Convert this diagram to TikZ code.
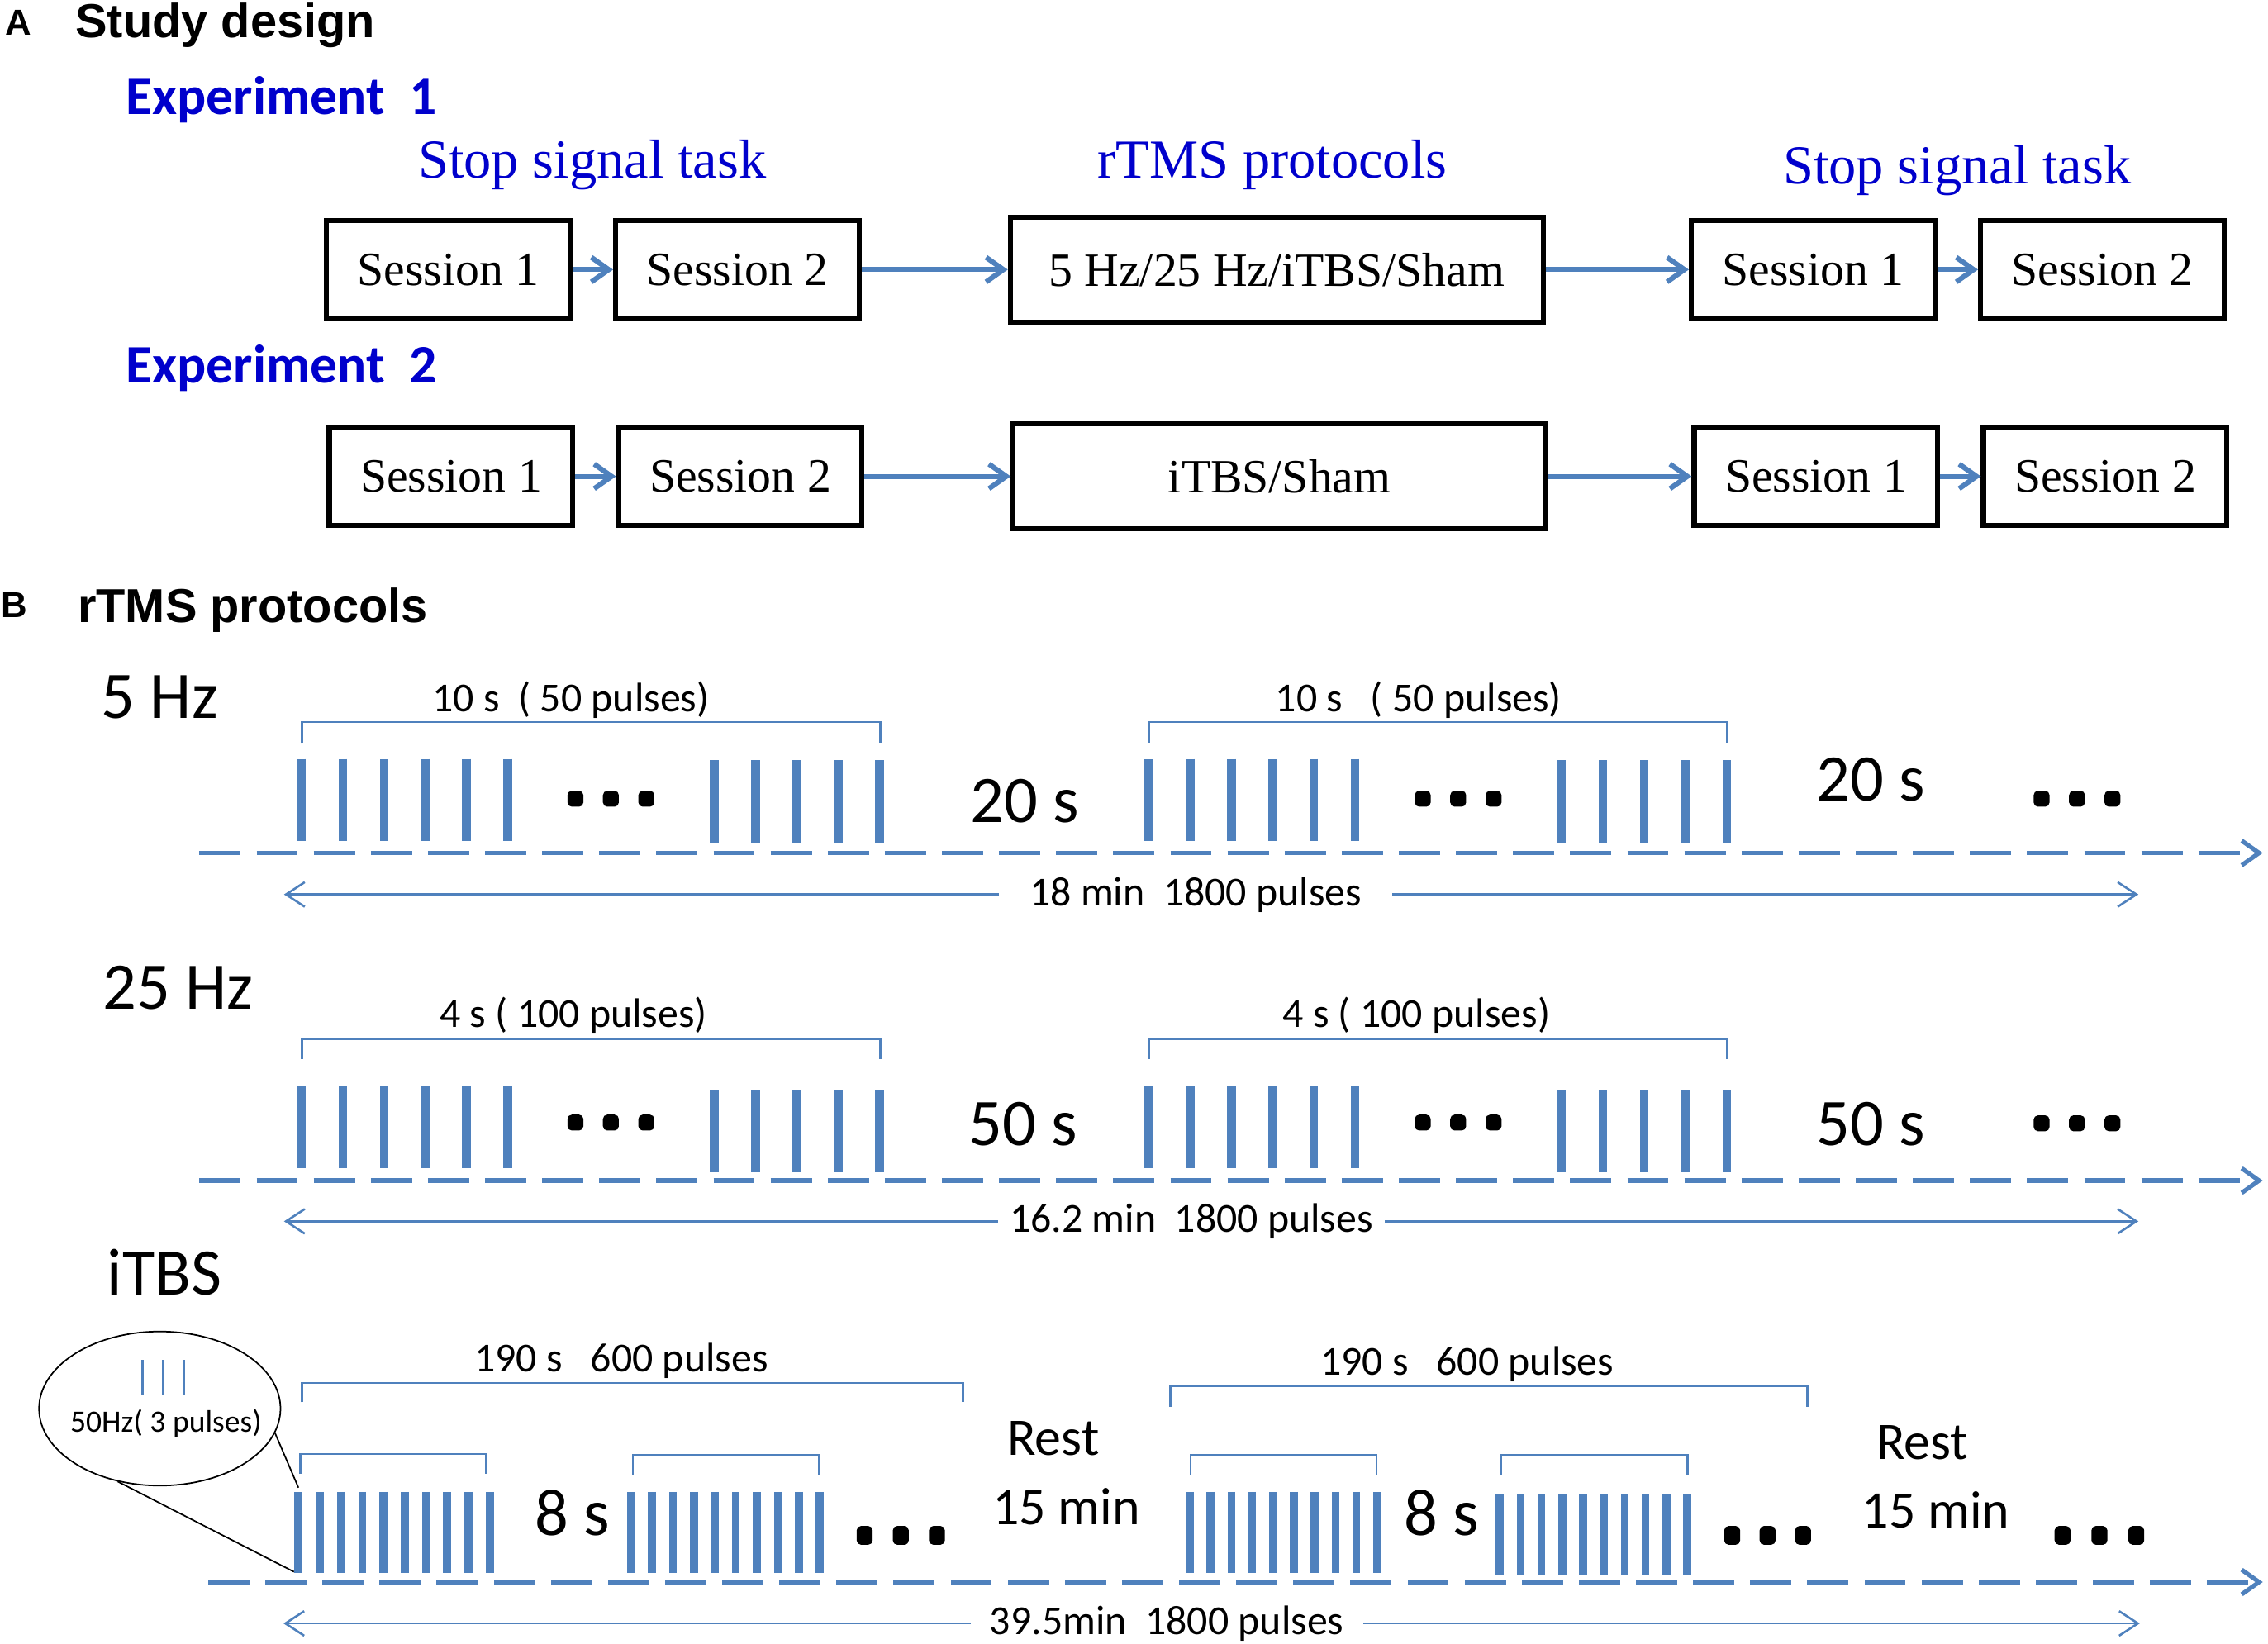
\documentclass[tikz,border=0pt]{standalone}
\usepackage{fontspec}
\setmainfont{Liberation Serif}
\newfontfamily\headfont{Liberation Sans}
\newfontfamily\calfont{Carlito}
\usetikzlibrary{arrows.meta,positioning,shapes.geometric}
\definecolor{pulseblue}{HTML}{4F81BD}
\definecolor{titleblue}{HTML}{0000CC}
\newcommand{\fsz}[1]{\fontsize{#1}{#1}\selectfont}

\begin{document}
\begin{tikzpicture}[x=1pt,y=-1pt,  %coordinates are pixels of the figure, y going down
		session/.style={draw=black,line width=3.5pt,minimum width=168.5pt,minimum height=67.5pt,inner sep=0pt,font=\fsz{33}},
		protocol/.style={session,minimum width=368.5pt,minimum height=72.5pt},
		flowarrow/.style={draw=pulseblue,line width=3.5pt,-{Straight Barb[length=12pt,width=17pt]}},
		panelletter/.style={inner sep=0pt,font=\headfont\bfseries\fsz{25}},
		heading/.style={anchor=base west,inner sep=0pt,font=\headfont\bfseries\fsz{33}},
		expt/.style={anchor=base west,inner sep=0pt,text=titleblue,font=\calfont\bfseries\fsz{37.5}},
		task/.style={anchor=base west,inner sep=0pt,text=titleblue,font=\fsz{38}},
		biglabel/.style={anchor=base west,inner sep=0pt,font=\calfont\fsz{46}},
		restlabel/.style={anchor=base west,inner sep=0pt,font=\calfont\fsz{36.5}},
		blocklabel/.style={anchor=base west,inner sep=0pt,font=\calfont\fsz{28.5}},
		sumlabel/.style={inner ysep=0pt,font=\calfont\fsz{28.5}},
		span/.style={draw=pulseblue,line width=1.5pt,-{Straight Barb[length=13pt,width=17pt]}},
		timeline/.style={draw=pulseblue,line width=3pt,dash pattern=on 28.5pt off 11pt,-{Straight Barb[length=12pt,width=17pt]}},
		pulsebar/.style={draw=pulseblue,line width=6pt},
		thetabar/.style={draw=pulseblue,line width=5.5pt},
		bracket/.style={draw=pulseblue,line width=1.5pt},
		dotmark/.style={fill=black,rounded corners=3pt}]

	\useasboundingbox (0,0) rectangle (1568.6,1137.1);

	% A: study design
	\node[panelletter] (pa) at (12.5,15.5) {A};
	\node[heading] (design) at (52,26) {Study design};
	\node[expt] (exp1) at (87,79) {Experiment~~1};
	\node[task] (pre1) at (289,123) {Stop signal task};
	\node[task] (prot1) at (759,123) {rTMS protocols};
	\node[task] (post1) at (1233,127) {Stop signal task};

	\node[session] (e1a) at (310,186.5) {Session 1};
	\node[session] (e1b) [right=28pt of e1a] {Session 2};
	\node[protocol] (e1r) [right=101pt of e1b] {5 Hz/25 Hz/iTBS/Sham};
	\node[session] (e1c) [right=99pt of e1r] {Session 1};
	\node[session] (e1d) [right=28pt of e1c] {Session 2};
	\draw[flowarrow] (e1a) -- (e1b);
	\draw[flowarrow] (e1b) -- (e1r);
	\draw[flowarrow] (e1r) -- (e1c);
	\draw[flowarrow] (e1c) -- (e1d);

	\node[expt] (exp2) at (87,265) {Experiment~~2};
	\node[session] (e2a) at (312,329.5) {Session 1};
	\node[session] (e2b) [right=28pt of e2a] {Session 2};
	\node[protocol] (e2r) [right=101pt of e2b] {iTBS/Sham};
	\node[session] (e2c) [right=99pt of e2r] {Session 1};
	\node[session] (e2d) [right=28pt of e2c] {Session 2};
	\draw[flowarrow] (e2a) -- (e2b);
	\draw[flowarrow] (e2b) -- (e2r);
	\draw[flowarrow] (e2r) -- (e2c);
	\draw[flowarrow] (e2c) -- (e2d);

	% B: rTMS protocols
	\node[panelletter] (pb) at (10,418.5) {B};
	\node[heading] (protb) at (53.6,430.5) {rTMS protocols};

	% 5 Hz
	\node[biglabel] (hz5) at (70,497) {5 Hz};
	\node[blocklabel] (l5a) at (299,492.4) {10 s~~( 50 pulses)};
	\node[blocklabel] (l5b) at (882,492.4) {10 s~~~( 50 pulses)};
	\node[biglabel] (w5a) at (671,568.6) {20 s};
	\node[biglabel] (w5b) at (1256,554) {20 s};
	\foreach \o in {0,586}{
		\draw[bracket] (208.7+\o,514) |- (608.7+\o,499.5) -- (608.7+\o,514);
		\foreach \i in {0,...,5} \draw[pulsebar] (208.7+\o+28.5*\i,525) -- ++(0,57);
		\foreach \i in {0,...,4} \draw[pulsebar] (494+\o+28.6*\i,526) -- ++(0,57);
		\foreach \i in {0,1,2} \path[dotmark] (392.5+\o+24.5*\i,547) rectangle ++(11,11);
	}
	\foreach \i in {0,1,2} \path[dotmark] (1406.5+24.5*\i,547) rectangle ++(11,11);
	\coordinate (ax5s) at (138,590);
	\coordinate (ax5e) at (1565,590);
	\draw[timeline] (ax5s) -- (ax5e);
	\coordinate (t5l) at (196.4,618.7);
	\coordinate (t5r) at (1479,618.7);
	\node[sumlabel,inner xsep=21pt] (t5) at (827,618.7) {18 min~~1800 pulses};
	\draw[span] (t5) -- (t5l);
	\draw[span] (t5) -- (t5r);

	% 25 Hz
	\node[biglabel] (hz25) at (71,698) {25 Hz};
	\node[blocklabel] (l25a) at (304,710.5) {4 s ( 100 pulses)};
	\node[blocklabel] (l25b) at (887,710.5) {4 s ( 100 pulses)};
	\node[biglabel] (w25a) at (670,792.4) {50 s};
	\node[biglabel] (w25b) at (1256,792.4) {50 s};
	\foreach \o in {0,586}{
		\draw[bracket] (208.7+\o,732.4) |- (608.7+\o,718.7) -- (608.7+\o,732.4);
		\foreach \i in {0,...,5} \draw[pulsebar] (208.7+\o+28.5*\i,751) -- ++(0,57);
		\foreach \i in {0,...,4} \draw[pulsebar] (494+\o+28.6*\i,754) -- ++(0,57);
		\foreach \i in {0,1,2} \path[dotmark] (392.5+\o+24.5*\i,771) rectangle ++(11,11);
	}
	\foreach \i in {0,1,2} \path[dotmark] (1406.5+24.5*\i,771.5) rectangle ++(11,11);
	\coordinate (ax25s) at (138,816.6);
	\coordinate (ax25e) at (1565,816.6);
	\draw[timeline] (ax25s) -- (ax25e);
	\coordinate (t25l) at (196.4,844.8);
	\coordinate (t25r) at (1479,844.8);
	\node[sumlabel,inner xsep=8pt] (t25) at (824,844.8) {16.2 min~~1800 pulses};
	\draw[span] (t25) -- (t25l);
	\draw[span] (t25) -- (t25r);

	% iTBS
	\node[biglabel] (itbs) at (74,895.5) {iTBS};
	\node[blocklabel] (lTa) at (328,948.6) {190 s~~~600 pulses};
	\node[blocklabel] (lTb) at (913,950.9) {190 s~~~600 pulses};
	\draw[bracket] (209,970) |- (666,956.6) -- (666,970);
	\draw[bracket] (809.4,973) |- (1250,958.5) -- (1250,973);
	\foreach \a/\b/\t in {207.7/336.3/1005.7,437.7/566.3/1006.7,823.4/951.9/1006.7,1037.9/1167/1006.7}
		\draw[bracket] (\a,\t+13.8) |- (\b,\t) -- (\b,\t+13.8);
	\foreach \bx/\by/\d in {206.4/1032/14.7,436.4/1032/14.5,822.9/1032/14.4,1037.3/1034/14.4}
		\foreach \i in {0,...,9} \draw[thetabar] (\bx+\d*\i,\by) -- ++(0,56);
	\node[biglabel] (gTa) at (370,1062) {8 s};
	\node[biglabel] (gTb) at (971,1062) {8 s};
	\node[restlabel] (rTa) at (696.6,1006.3) {Rest};
	\node[restlabel] (mTa) at (686.2,1054.7) {15 min};
	\node[restlabel] (rTb) at (1297.7,1009.5) {Rest};
	\node[restlabel] (mTb) at (1287.8,1057) {15 min};
	\foreach \x in {598,623,648,1198,1222.5,1247,1426.5,1452,1477.5}
		\path[dotmark] (\x-5.5,1055.5) rectangle ++(11,13);
	\coordinate (axTs) at (144,1094.3);
	\coordinate (axTe) at (1565,1094.3);
	\draw[timeline] (axTs) -- (axTe);
	\coordinate (tTl) at (196,1122.9);
	\coordinate (tTr) at (1480,1122.9);
	\node[sumlabel,inner xsep=13pt] (tT) at (807,1122.9) {39.5min~~1800 pulses};
	\draw[span] (tT) -- (tTl);
	\draw[span] (tT) -- (tTr);

	% magnified burst
	\node[ellipse,draw=black,line width=1pt,minimum width=167pt,minimum height=106.6pt] (mag) at (110.5,974.3) {};
	\foreach \x in {98.4,112.8,127.2} \draw[pulseblue,line width=1.5pt] (\x,940.6) -- (\x,965.3);
	\node[inner sep=0pt,font=\calfont\fsz{21.5}] (magtxt) at (114.8,984.7) {50Hz( 3 pulses)};
	\coordinate (burstTop) at (206.4,1029);
	\coordinate (burstBot) at (203.3,1087.2);
	\draw[line width=1pt] (mag.-12) -- (burstTop);
	\draw[line width=1pt] (mag.-120) -- (burstBot);
\end{tikzpicture}
\end{document}
